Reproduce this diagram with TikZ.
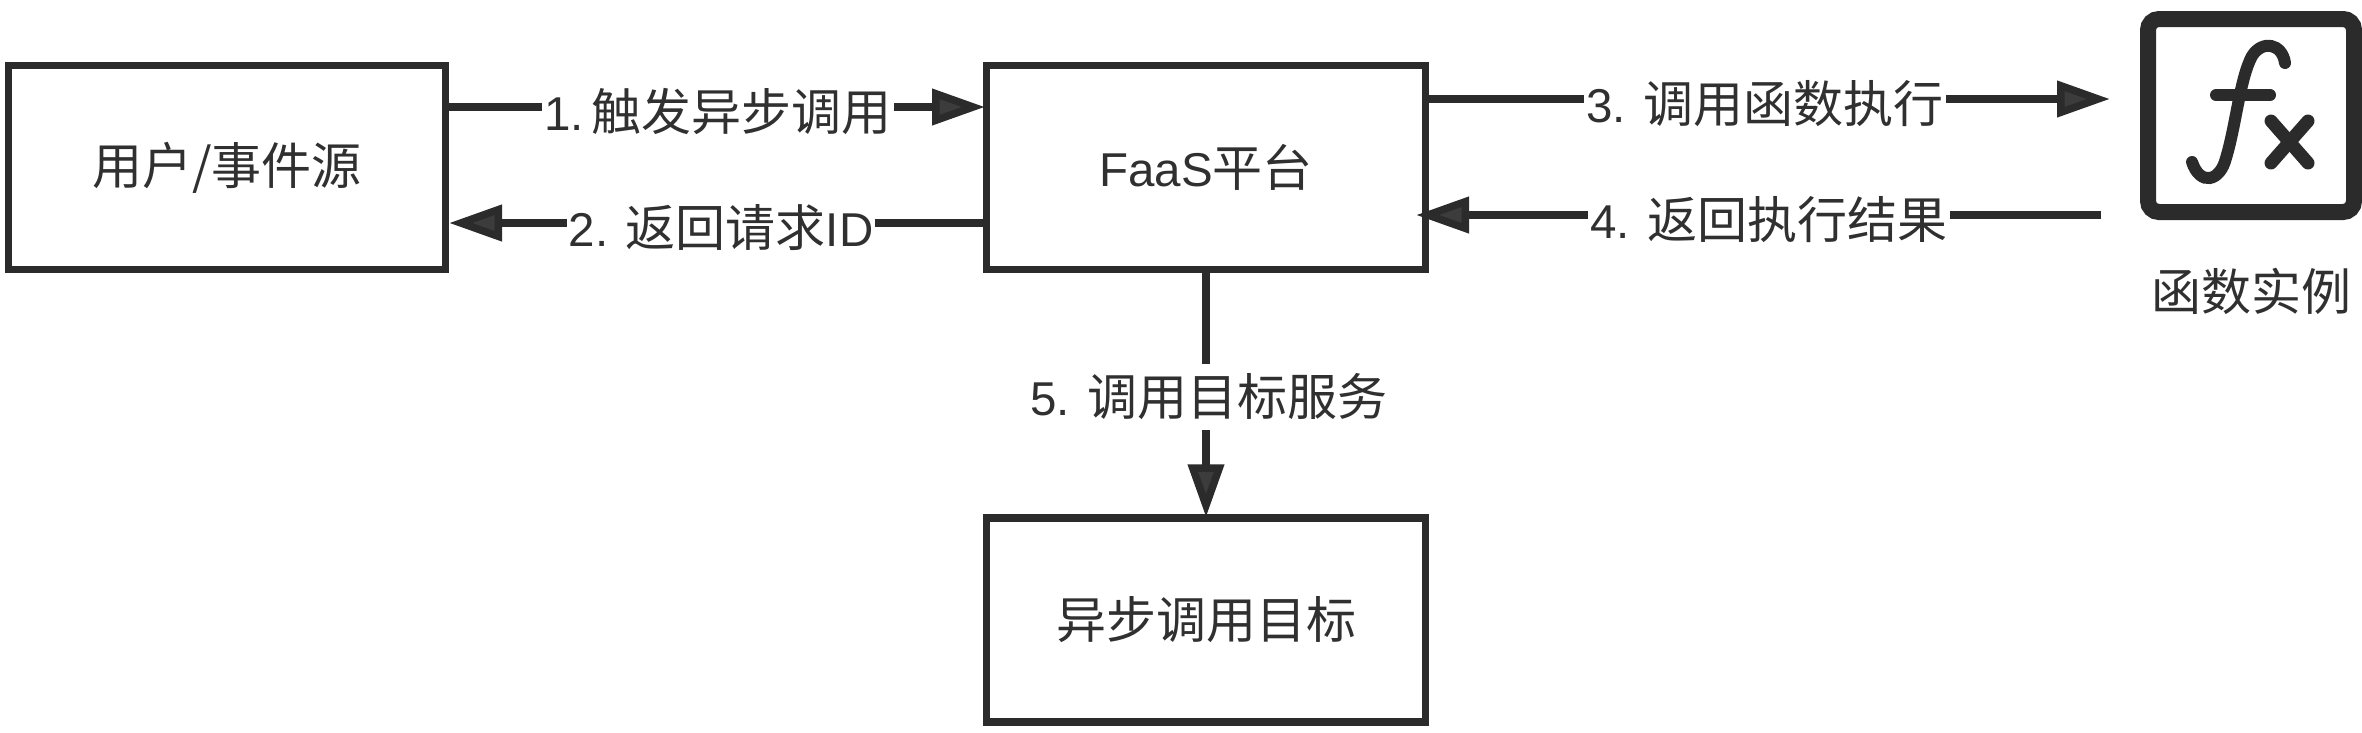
\documentclass[tikz,border=0pt]{standalone}
\usepackage{fontspec}
\usetikzlibrary{arrows.meta}
\setmainfont[Scale=0.95]{Liberation Sans}
\newfontfamily\cjk{Noto Sans CJK SC}
\newcommand{\zh}[1]{{\cjk #1}}
\definecolor{ink}{HTML}{2B2B2B}
\definecolor{txt}{HTML}{303030}
\tikzset{
  box/.style={draw=ink,line width=7.5pt,fill=white,inner sep=0pt,minimum width=439pt,minimum height=204pt,text=txt,font=\fontsize{50}{58}\selectfont},
  conn/.style={draw=ink,line width=7.5pt,-{Triangle[length=53pt,width=35pt,fill=ink!92!white]}},
  lab/.style={fill=white,text=txt,inner xsep=2pt,inner ysep=2pt,font=\fontsize{50}{58}\selectfont},
  glyph/.style={draw=ink,line width=12pt,line cap=round}
}
\begin{document}
\begin{tikzpicture}[x=1pt,y=-1pt]
\useasboundingbox (0,0) rectangle (2362,732);
\node[box,minimum width=437pt] (user) at (227,167.5) {\raisebox{-3pt}{\zh{用户/事件源}}};
\node[box] (faas) at (1206,167.5) {FaaS\zh{平台}};
\node[box] (target) at (1206,620) {\zh{异步调用目标}};
\node[draw=ink,line width=16pt,rounded corners=11pt,fill=white,minimum width=206pt,minimum height=193pt,inner sep=0pt] (icon) at (2251,115.5) {};
\node[text=txt,inner sep=0pt,font=\fontsize{50}{58}\selectfont] (iconlabel) at (2251,291) {\zh{函数实例}};
% connector ends
\coordinate (u1) at (447,107);
\coordinate (f1) at (985,107);
\coordinate (f2) at (986,223);
\coordinate (u2) at (449,223);
\coordinate (f3) at (1425,99);
\coordinate (i3) at (2110,99);
\coordinate (i4) at (2101,215);
\coordinate (f4) at (1416,215);
\draw[conn] (u1) -- (f1);
\draw[conn] (f2) -- (u2);
\draw[conn] (f3) -- (i3);
\draw[conn] (i4) -- (f4);
\draw[conn,shorten >=-3pt] (faas.south) -- (target.north);
\node[lab] (l1) at (718,112) {1.\kern8pt\zh{触发异步调用}};
\node[lab] (l2) at (721,228) {2. \zh{返回请求}ID};
\node[lab] (l3) at (1765,104) {3. \zh{调用函数执行}};
\node[lab] (l4) at (1769,220) {4. \zh{返回执行结果}};
\node[lab,inner ysep=10pt] (l5) at (1209,397) {5. \zh{调用目标服务}};
% fx glyph
\draw[glyph] (2285,63) .. controls (2282,43) and (2262,40) .. (2252,56) .. controls (2240,78) and (2236,125) .. (2226,158) .. controls (2220,182) and (2200,186) .. (2192,162);
\draw[glyph] (2216,95) -- (2270,95);
\draw[glyph,line width=13pt] (2271,121) -- (2308,163);
\draw[glyph,line width=13pt] (2308,121) -- (2271,163);
\end{tikzpicture}
\end{document}
